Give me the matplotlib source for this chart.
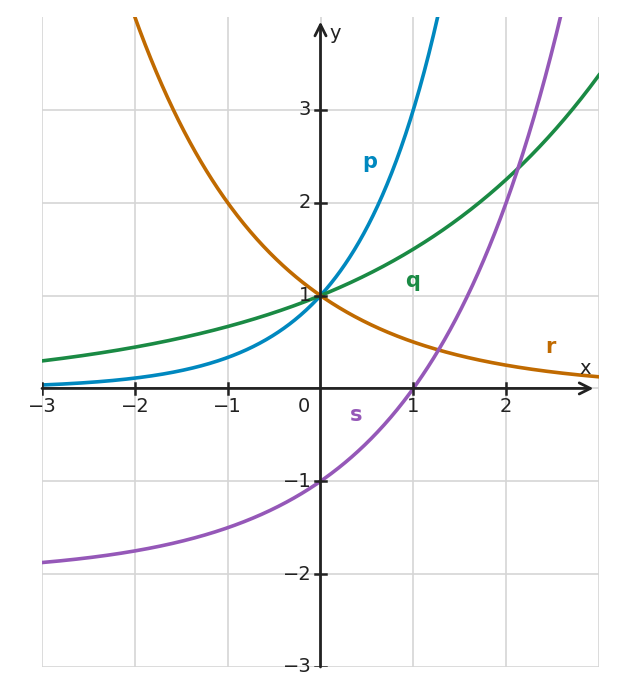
import numpy as np
import matplotlib.pyplot as plt

# curve definitions: y = base**x + offset
names = ["p", "q", "r", "s"]
bases = [3.0, 1.5, 0.5, 2.0]
offsets = [0.0, 0.0, 0.0, -2.0]
colors = ["#0088bf", "#1a8a44", "#c06a00", "#9558b8"]
label_pos = [(0.53, 2.44), (0.99, 1.16), (2.48, 0.45), (0.38, -0.29)]

xticks = [-3, -2, -1, 1, 2]
yticks = [-3, -2, -1, 1, 2, 3]

fig = plt.figure(figsize=(6.17, 6.96), dpi=100)
ax = fig.add_axes([42/617, 29/696, 557/617, 650/696])
ax.set_xlim(-3, 3)
ax.set_ylim(-3, 4)

for g in range(-3, 4):
    ax.axvline(g, color="#d5d5d5", lw=1.2, zorder=0)
for g in range(-3, 4):
    ax.axhline(g, color="#d5d5d5", lw=1.2, zorder=0)

x = np.linspace(-3, 3, 600)
for n, b, o, c, (lx, ly) in zip(names, bases, offsets, colors, label_pos):
    ax.plot(x, np.power(b, x) + o, color=c, lw=2.6, zorder=3)
    ax.text(lx, ly, n, color=c, fontsize=15, fontweight="bold", ha="center", va="center", zorder=4)

for s in ["top", "right", "left", "bottom"]:
    ax.spines[s].set_visible(False)
ax.set_xticks([])
ax.set_yticks([])

axc = "#222222"
ax.annotate("", xy=(2.94, 0), xytext=(-3, 0),
            arrowprops=dict(arrowstyle="->", color=axc, lw=2, mutation_scale=20,
                            shrinkA=0, shrinkB=0), zorder=5)
ax.annotate("", xy=(0, 3.95), xytext=(0, -3),
            arrowprops=dict(arrowstyle="->", color=axc, lw=2, mutation_scale=20,
                            shrinkA=0, shrinkB=0), zorder=5)

tl = 0.06
for t in xticks:
    ax.plot([t, t], [-tl, tl], color=axc, lw=1.8, zorder=5)
    ax.text(t, -0.2, "\u2212" + str(abs(t)) if t < 0 else str(t), ha="center", va="center", fontsize=14, color=axc)
for t in yticks:
    ax.plot([-tl*0.93, tl*0.93], [t, t], color=axc, lw=1.8, zorder=5)
    ax.text(-0.1, t, "\u2212" + str(abs(t)) if t < 0 else str(t), ha="right", va="center", fontsize=14, color=axc)
ax.text(-0.18, -0.2, "0", ha="center", va="center", fontsize=14, color=axc)
ax.text(2.85, 0.22, "x", ha="center", va="center", fontsize=14, color=axc)
ax.text(0.16, 3.82, "y", ha="center", va="center", fontsize=14, color=axc)

fig.savefig("out.png", dpi=100)
